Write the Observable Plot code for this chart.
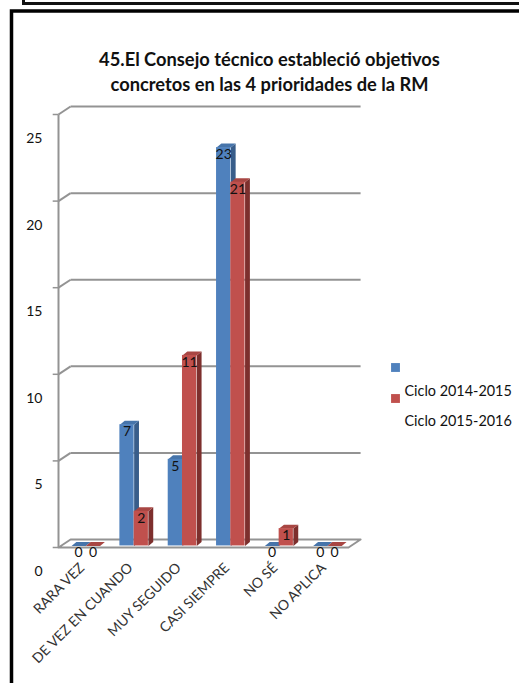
<!DOCTYPE html>
<html>
<head>
<meta charset="utf-8">
<style>
html,body{margin:0;padding:0;background:#fff;overflow:hidden}
svg{display:block}
</style>
<script src="https://cdn.jsdelivr.net/npm/d3@7"></script>
<script src="https://cdn.jsdelivr.net/npm/@observablehq/plot@0.6"></script>
</head>
<body>
<div id="chart"></div>
<script>
const categories = ["RARA VEZ", "DE VEZ EN CUANDO", "MUY SEGUIDO", "CASI SIEMPRE", "NO SÉ", "NO APLICA"];
const ciclo2014 = [0, 7, 5, 23, 0, 0];
const ciclo2015 = [0, 2, 11, 21, 1, 0];
const seriesNames = ["Ciclo 2014-2015", "Ciclo 2015-2016"];
const yTicks = [0, 5, 10, 15, 20, 25];
const titleLines = ["45.El Consejo técnico estableció objetivos", "concretos en las 4 prioridades de la RM"];

const font = "Lato, Carlito, Calibri, sans-serif";
const gray = "#939393";
const wallDx = 0.25, wallDy = 0.46;   // 3D wall depth, in scale units
const barDx = 0.1, barDy = 0.23;      // 3D bar depth
const lift = 0.09;                    // bars stand slightly inside the floor
const barW = 0.295, barStart = 0.27;

function bars(values, slot) {
  return values.map((v, i) => ({
    id: i, v,
    x1: i + barStart + slot * barW,
    x2: i + barStart + (slot + 1) * barW,
    y1: lift,
    y2: v + lift
  }));
}
function topFace(b) {
  return [[b.x1, b.y2], [b.x2, b.y2], [b.x2 + barDx, b.y2 + barDy], [b.x1 + barDx, b.y2 + barDy]]
    .map(([x, y]) => ({id: b.id, x, y}));
}
function sideFace(b) {
  return [[b.x2, b.y1], [b.x2, b.y2], [b.x2 + barDx, b.y2 + barDy], [b.x2 + barDx, b.y1 + barDy]]
    .map(([x, y]) => ({id: b.id, x, y}));
}
function barMarks(values, slot, front, top, side) {
  const bs = bars(values, slot);
  return [
    Plot.line(bs.filter(b => b.v > 0).flatMap(sideFace), {x: "x", y: "y", z: "id", fill: side, stroke: "none"}),
    Plot.line(bs.flatMap(topFace), {x: "x", y: "y", z: "id", fill: top, stroke: "none"}),
    Plot.rect(bs.filter(b => b.v > 0), {x1: "x1", x2: "x2", y1: "y1", y2: "y2", fill: front})
  ];
}
function valueLabels(values, slot) {
  return Plot.text(bars(values, slot), {
    x: d => (d.x1 + d.x2) / 2, y: "y2", text: d => String(d.v),
    dy: 7, fontSize: 14, fill: "#111", fontFamily: font
  });
}

const gridTicks = yTicks.filter(v => v > 0);
const chart = Plot.plot({
  width: 519,
  height: 683,
  marginTop: 0, marginRight: 0, marginBottom: 0, marginLeft: 0,
  style: {background: "#fff"},
  x: {domain: [0, 6], range: [58, 348], axis: null},
  y: {domain: [0, 25], range: [547, 114], axis: null},
  marks: [
    // outer frames of the page
    Plot.frame({stroke: "#000", strokeWidth: 3.5, insetLeft: 11, insetTop: 10.5, insetRight: -20, insetBottom: -20}),
    Plot.frame({stroke: "#111", strokeWidth: 3, insetLeft: 23, insetTop: -20, insetRight: -20, insetBottom: 680}),
    // walls and gridlines
    Plot.link(gridTicks, {x1: wallDx, x2: 6 + wallDx, y1: d => d + wallDy, y2: d => d + wallDy, stroke: gray, strokeWidth: 2}),
    Plot.link(gridTicks, {x1: 0, x2: wallDx, y1: d => d, y2: d => d + wallDy, stroke: gray, strokeWidth: 2}),
    Plot.link(yTicks, {x1: -0.12, x2: 0, y1: d => d, y2: d => d, stroke: gray, strokeWidth: 1.5}),
    Plot.link([0], {x1: 0, x2: 0, y1: 0, y2: 25, stroke: gray, strokeWidth: 2}),
    Plot.line([[0, 0], [wallDx, wallDy], [6 + wallDx, wallDy], [6, 0], [0, 0]], {x: "0", y: "1", stroke: gray, strokeWidth: 2}),
    // y labels
    Plot.text(yTicks, {x: 0, y: d => d, text: d => String(d), textAnchor: "end", dx: -16, dy: 24, fontSize: 14, fill: "#111", fontFamily: font}),
    // bars
    ...barMarks(ciclo2014, 0, "#4f81bd", "#4674aa", "#385d8a"),
    ...barMarks(ciclo2015, 1, "#c0504d", "#a84643", "#7d2f2d"),
    valueLabels(ciclo2014, 0),
    valueLabels(ciclo2015, 1),
    // category labels
    Plot.text(categories, {x: (d, i) => i + 0.55, y: 0, text: d => d, rotate: -45, textAnchor: "end", dx: -3, dy: 18, fontSize: 14, fill: "#333", fontFamily: font}),
    // title
    Plot.text([titleLines[0]], {frameAnchor: "top-left", textAnchor: "middle", lineAnchor: "middle", dx: 269, dy: 60, text: d => d, fontSize: 18.3, fontWeight: 700, fill: "#111", fontFamily: font}),
    Plot.text([titleLines[1]], {frameAnchor: "top-left", textAnchor: "middle", lineAnchor: "middle", dx: 269, dy: 85, text: d => d, fontSize: 18.3, fontWeight: 700, fill: "#111", fontFamily: font}),
    // legend
    Plot.dot([0], {frameAnchor: "top-left", dx: 395, dy: 367, symbol: "square", r: 5, fill: "#4f81bd", stroke: "#fff", strokeWidth: 0}),
    Plot.dot([0], {frameAnchor: "top-left", dx: 395, dy: 398, symbol: "square", r: 5, fill: "#c0504d", stroke: "#fff", strokeWidth: 0}),
    Plot.text([seriesNames[0]], {frameAnchor: "top-left", textAnchor: "start", lineAnchor: "middle", dx: 404, dy: 391, text: d => d, fontSize: 14.4, fill: "#111", fontFamily: font}),
    Plot.text([seriesNames[1]], {frameAnchor: "top-left", textAnchor: "start", lineAnchor: "middle", dx: 404, dy: 421, text: d => d, fontSize: 14.4, fill: "#111", fontFamily: font})
  ]
});
document.getElementById("chart").append(chart);
</script>
</body>
</html>
